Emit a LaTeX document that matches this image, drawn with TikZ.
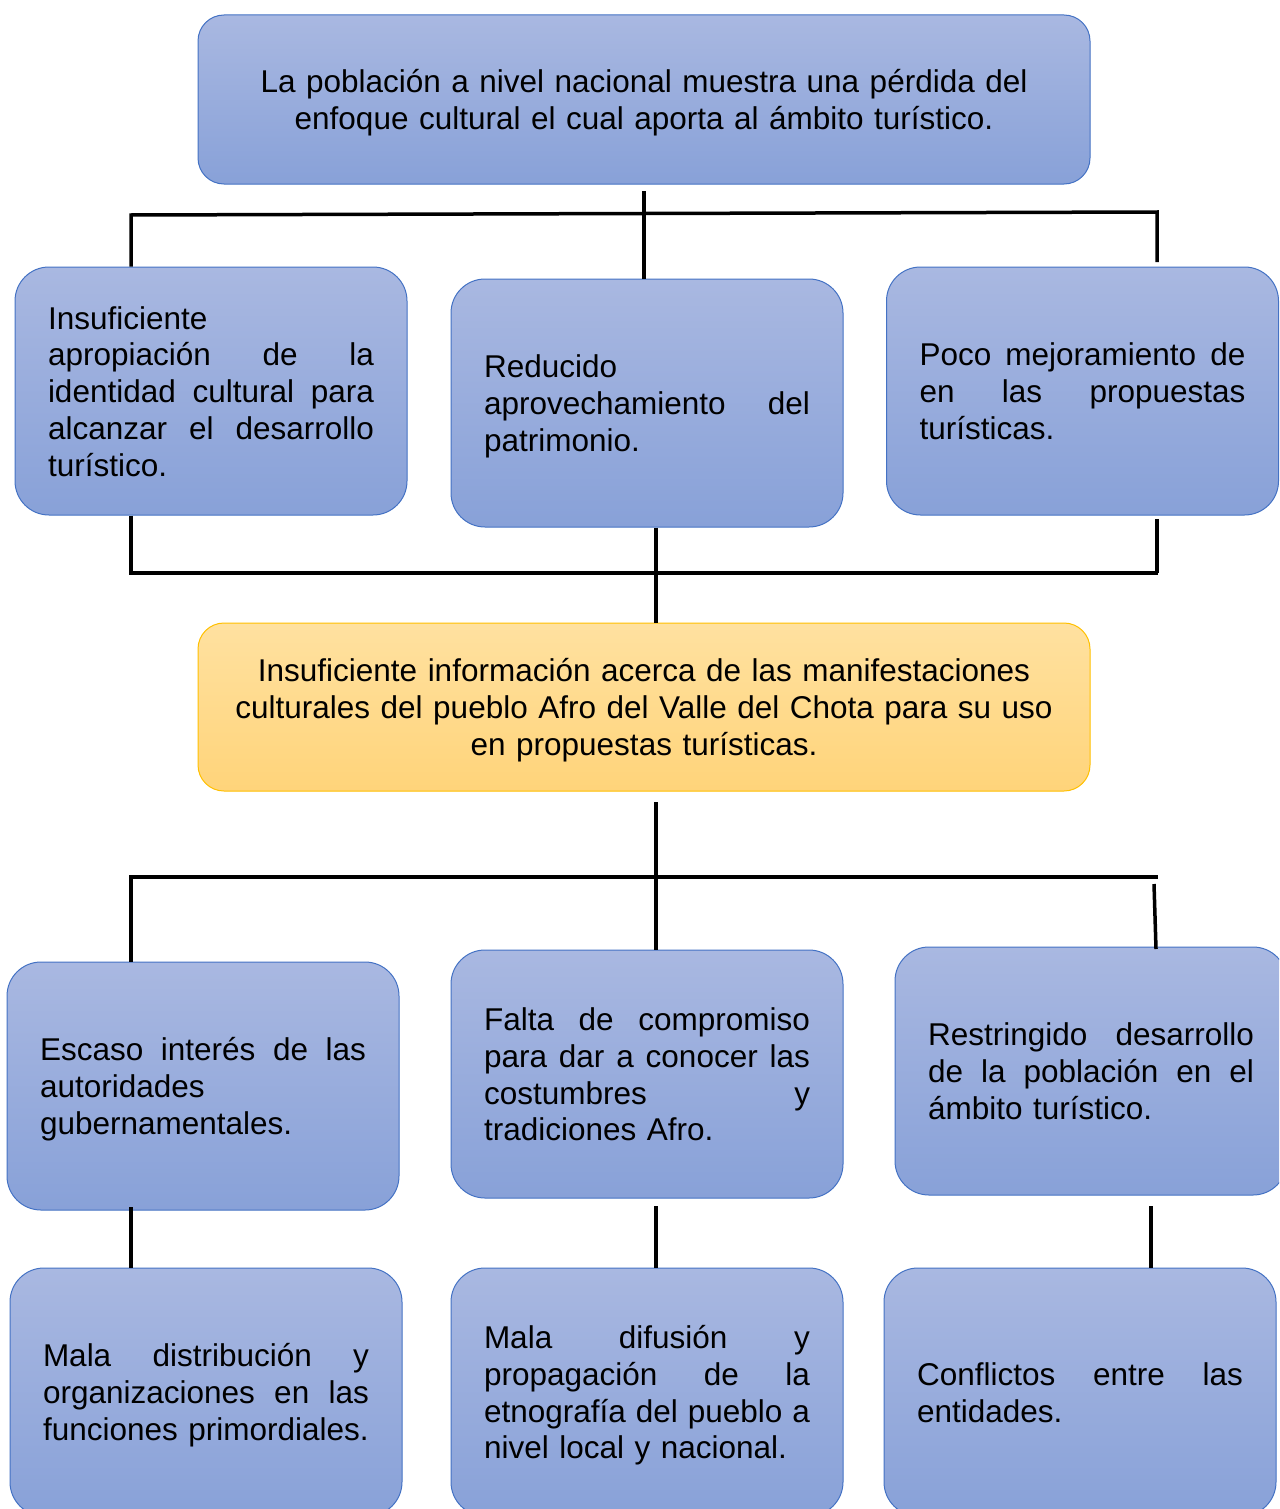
\documentclass[tikz,border=0pt]{standalone}
\usepackage{fontspec}
\setmainfont{Liberation Sans}
\definecolor{btop}{HTML}{A9B8E1}
\definecolor{bbot}{HTML}{88A1D8}
\definecolor{bord}{HTML}{4472C4}
\definecolor{ytop}{HTML}{FFE1A0}
\definecolor{ybot}{HTML}{FFD47A}
\definecolor{ybord}{HTML}{FFC000}
\hyphenpenalty=10000
\exhyphenpenalty=10000
\newlength\tw
\setlength\tw{326pt}
\newcommand\jline[1]{{\spaceskip=0pt\relax\xspaceskip=0pt\relax\makebox[\tw][s]{#1}}}
\newcommand\ts{\rule{0pt}{30pt}}
\newcommand\bs{\rule[-6.8pt]{0pt}{6.8pt}}
\begin{document}
\begin{tikzpicture}[x=1pt,y=-1pt,
  txt/.style={font={\fontsize{31.5}{36.8}\selectfont}},
  bluebox/.style={txt, draw=bord, line width=1pt, top color=btop, bottom color=bbot,
    rounded corners=34pt, text width=326pt, inner xsep=33pt, inner ysep=0pt,
    minimum height=248pt, align=left},
  widebox/.style={txt, rounded corners=26pt, text width=860pt, inner xsep=16pt, inner ysep=0pt,
    minimum height=169pt, align=center},
  conn/.style={line width=3.5pt, black, line join=miter}]
\useasboundingbox (0,0) rectangle (1279,1509);
\clip (0,0) rectangle (1279,1509);
\fill[white] (0,0) rectangle (1279,1509);

% top
\node[widebox, draw=bord, line width=1pt, top color=btop, bottom color=bbot] (top) at (644,99.5)
  {\ts La población a nivel nacional muestra una pérdida del\\enfoque cultural el cual aporta al ámbito turístico.\bs};

% row 2
\node[bluebox] (r2a) at (211,391)
  {\ts Insuficiente\\\jline{apropiación de la}\\\jline{identidad cultural para}\\\jline{alcanzar el desarrollo}\\turístico.\bs};
\node[bluebox] (r2b) at (647,403)
  {\ts Reducido\\\jline{aprovechamiento del}\\patrimonio.\bs};
\node[bluebox] (r2c) at (1082.5,391)
  {\ts\jline{Poco mejoramiento de}\\\jline{en las propuestas}\\turísticas.\bs};

% yellow
\node[widebox, minimum height=168pt, draw=ybord, line width=1pt, top color=ytop, bottom color=ybot] (yel) at (644,707)
  {\ts Insuficiente información acerca de las manifestaciones\\culturales del pueblo Afro del Valle del Chota para su uso\\en propuestas turísticas.\bs};

% row 3
\node[bluebox] (r3a) at (203,1086)
  {\ts\jline{Escaso interés de las}\\autoridades\\gubernamentales.\bs};
\node[bluebox] (r3b) at (647,1074)
  {\ts\jline{Falta de compromiso}\\\jline{para dar a conocer las}\\\jline{costumbres y}\\tradiciones Afro.\bs};
\node[bluebox] (r3c) at (1091,1071)
  {\ts\jline{Restringido desarrollo}\\\jline{de la población en el}\\ámbito turístico.\bs};

% row 4
\node[bluebox] (r4a) at (206,1392)
  {\ts\jline{Mala distribución y}\\\jline{organizaciones en las}\\funciones primordiales.\bs};
\node[bluebox] (r4b) at (647,1392)
  {\ts\jline{Mala difusión y}\\\jline{propagación de la}\\\jline{etnografía del pueblo a}\\nivel local y nacional.\bs};
\node[bluebox] (r4c) at (1080,1392)
  {\ts\jline{Conflictos entre las}\\entidades.\bs};

% connectors: top bracket
\coordinate (a1) at (131,215);
\coordinate (a2) at (1157,212);
\coordinate (a3) at (1157,262);
\coordinate (m1) at (644,191);
\draw[conn] (a1 |- r2a.north) -- (a1) -- (a2) -- (a3);
\draw[conn] (m1) -- (m1 |- r2b.north);

% lower bracket
\coordinate (b1) at (131,573);
\coordinate (b2) at (1158,573);
\coordinate (b3) at (1157,519);
\coordinate (c) at (656,0);
\draw[conn] (b1 |- r2a.south) -- (b1) -- (b2);
\draw[conn] (b3) -- (b3 |- b2);
\draw[conn] (c |- r2b.south) -- (c |- yel.north);

% below yellow
\coordinate (d1) at (656,802);
\coordinate (e1) at (131,877);
\coordinate (e2) at (1158,877);
\coordinate (e3) at (1154,884);
\coordinate (e4) at (1156,949);
\draw[conn] (d1) -- (d1 |- r3b.north);
\draw[conn] (e1 |- r3a.north) -- (e1) -- (e2);
\draw[conn] (e3) -- (e4);

% row 3 to row 4
\coordinate (f1) at (131,1207);
\coordinate (f2) at (656,1206);
\coordinate (f3) at (1151,1206);
\draw[conn] (f1) -- (f1 |- r4a.north);
\draw[conn] (f2) -- (f2 |- r4b.north);
\draw[conn] (f3) -- (f3 |- r4c.north);
\end{tikzpicture}
\end{document}
